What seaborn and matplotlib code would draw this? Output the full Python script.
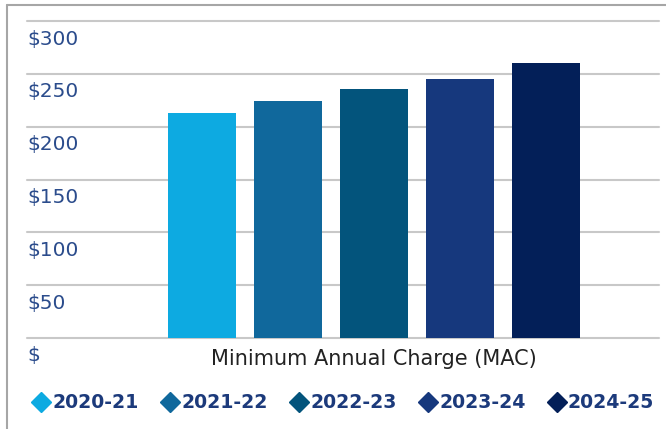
import pandas as pd
import numpy as np
import seaborn as sns
import matplotlib.pyplot as plt
from matplotlib.lines import Line2D
import matplotlib.transforms as mtransforms

# chart data
category = "Minimum Annual Charge (MAC)"
years = ["2020-21", "2021-22", "2022-23", "2023-24", "2024-25"]
charges = [213, 224, 236, 245, 260]
colors = ["#0DAAE1", "#10689C", "#03547C", "#16387D", "#031F58"]
ytick_vals = [0, 50, 100, 150, 200, 250, 300]
ytick_labels = ["$", "$50", "$100", "$150", "$200", "$250", "$300"]

df = pd.DataFrame({"category": [category] * len(years), "year": years, "charge": charges})

sns.set_style("white")
plt.rcParams["font.family"] = ["DejaVu Sans"]

W, H = 666, 429
fig = plt.figure(figsize=(W / 100, H / 100), dpi=100)
ax = fig.add_axes([27 / W, (H - 338) / H, 632 / W, 317 / H])

sns.barplot(data=df, x="category", y="charge", hue="year", palette=colors,
            width=0.8, gap=0.21, legend=False, ax=ax, saturation=1, linewidth=0)

ax.set_ylim(0, 300)
ax.set_xlim(-0.6456, 0.5302)
ax.set_yticks(ytick_vals)
ax.set_yticklabels([])
ax.tick_params(axis="y", length=0)
ax.tick_params(axis="x", length=0, pad=8, labelsize=15, labelcolor="#222222")
ax.yaxis.grid(True, color="#C8C8C8", linewidth=1.5, clip_on=False)
ax.set_axisbelow(True)
for s in ax.spines.values():
    s.set_visible(False)
ax.set_xlabel("")
ax.set_ylabel("")

# y labels sit just under each gridline, left aligned
off = mtransforms.ScaledTranslation(0, -18 / 100, fig.dpi_scale_trans)
for v, lab in zip(ytick_vals, ytick_labels):
    ax.text(0, v, lab, transform=ax.get_yaxis_transform() + off, ha="left", va="center",
            fontsize=14.5, color="#2B4C8C")

# legend with diamond markers
handles = [Line2D([], [], marker="D", linestyle="none", markersize=10, color=c) for c in colors]
leg = fig.legend(handles, years, loc="center", bbox_to_anchor=(343 / W, 1 - 403 / H), ncol=5,
                 frameon=False, handletextpad=0.1, columnspacing=1.15, handlelength=1.0,
                 prop={"weight": "bold", "size": 13.6})
for t in leg.get_texts():
    t.set_color("#1C3A7B")

# frame lines on top and left
fig.add_artist(Line2D([7 / W, 1], [1 - 5 / H, 1 - 5 / H], transform=fig.transFigure, color="#A6A6A6", lw=1.5))
fig.add_artist(Line2D([7 / W, 7 / W], [0, 1 - 5 / H], transform=fig.transFigure, color="#A6A6A6", lw=1.5))

fig.savefig("out.png", dpi=100)
